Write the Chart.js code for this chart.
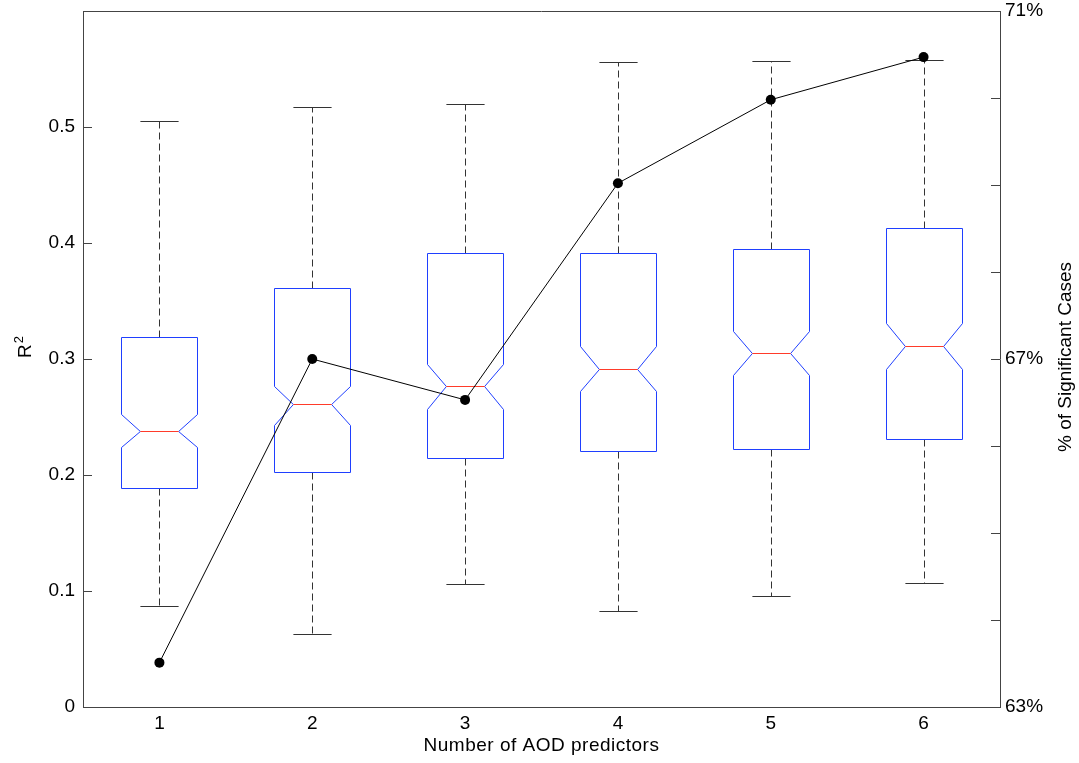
<!DOCTYPE html>
<html>
<head>
<meta charset="utf-8">
<script src="https://cdn.jsdelivr.net/npm/chart.js@4"></script>
<style>
  body { margin: 0; background: #fff; }
  #chart { display: block; }
</style>
</head>
<body>
<canvas id="chart" width="1079" height="763"></canvas>
<script>
// Data
const categories = ['1', '2', '3', '4', '5', '6'];
const whiskerHigh = [0.505, 0.517, 0.520, 0.556, 0.557, 0.558];
const q3 = [0.319, 0.361, 0.391, 0.391, 0.395, 0.413];
const notchHigh = [0.253, 0.277, 0.296, 0.311, 0.324, 0.331];
const median = [0.238, 0.261, 0.277, 0.291, 0.305, 0.311];
const notchLow = [0.224, 0.243, 0.257, 0.272, 0.286, 0.291];
const q1 = [0.189, 0.203, 0.215, 0.221, 0.222, 0.231];
const whiskerLow = [0.087, 0.063, 0.106, 0.083, 0.096, 0.107];
const significantPct = [63.51, 67.0, 66.53, 69.02, 69.98, 70.47];
const pctLabels = [63, 67, 71];

const FONT = '"Liberation Sans", Arial, Helvetica, sans-serif';
const boxColor = '#1f3fff';
const medianColor = '#ff3b2a';
const axisColor = '#444';

function line(ctx, x1, y1, x2, y2) {
    ctx.beginPath();
    ctx.moveTo(x1, y1);
    ctx.lineTo(x2, y2);
    ctx.stroke();
}

// no extra room for edge labels, the plot area is fixed by layout padding
function noPad(s) {
    s.paddingTop = 0;
    s.paddingBottom = 0;
    s.paddingLeft = 0;
    s.paddingRight = 0;
}

// notched boxes, drawn under the line dataset
const boxPlugin = {
    id: 'notchedBoxes',
    beforeDatasetsDraw(chart) {
        const { ctx, scales: { x, y } } = chart;
        const step = x.getPixelForValue(1) - x.getPixelForValue(0);
        const hw = step * 0.25;   // half box width
        const nw = step * 0.125;  // half notch waist
        const cw = step * 0.125;  // half cap width
        const py = v => Math.round(y.getPixelForValue(v)) + 0.5;

        ctx.save();
        ctx.lineWidth = 1;
        categories.forEach((c, i) => {
            const cx = Math.round(x.getPixelForValue(i)) + 0.5;

            // whiskers
            ctx.strokeStyle = '#333';
            ctx.setLineDash([7, 4]);
            line(ctx, cx, py(q3[i]), cx, py(whiskerHigh[i]));
            line(ctx, cx, py(q1[i]), cx, py(whiskerLow[i]));
            ctx.setLineDash([]);
            line(ctx, cx - cw, py(whiskerHigh[i]), cx + cw, py(whiskerHigh[i]));
            line(ctx, cx - cw, py(whiskerLow[i]), cx + cw, py(whiskerLow[i]));

            // box outline with notch
            const l = Math.round(cx - hw) + 0.5, r = Math.round(cx + hw) - 0.5;
            ctx.strokeStyle = boxColor;
            ctx.beginPath();
            ctx.moveTo(l, py(q1[i]));
            ctx.lineTo(l, py(notchLow[i]));
            ctx.lineTo(cx - nw, py(median[i]));
            ctx.lineTo(l, py(notchHigh[i]));
            ctx.lineTo(l, py(q3[i]));
            ctx.lineTo(r, py(q3[i]));
            ctx.lineTo(r, py(notchHigh[i]));
            ctx.lineTo(cx + nw, py(median[i]));
            ctx.lineTo(r, py(notchLow[i]));
            ctx.lineTo(r, py(q1[i]));
            ctx.closePath();
            ctx.stroke();

            // median
            ctx.strokeStyle = medianColor;
            line(ctx, cx - nw, py(median[i]), cx + nw, py(median[i]));
        });
        ctx.restore();
    }
};

// top frame line, inward tick marks and axis titles
const framePlugin = {
    id: 'frame',
    afterDraw(chart) {
        const { ctx, chartArea: a, scales: { y, y2 } } = chart;
        ctx.save();
        ctx.strokeStyle = axisColor;
        ctx.lineWidth = 1;
        line(ctx, a.left, Math.round(a.top) + 0.5, a.right, Math.round(a.top) + 0.5);

        y.ticks.forEach(t => {
            if (t.value > 0.55) return;
            const p = Math.round(y.getPixelForValue(t.value)) + 0.5;
            line(ctx, a.left, p, a.left + 9, p);
        });
        y2.ticks.forEach(t => {
            const p = Math.round(y2.getPixelForValue(t.value)) + 0.5;
            line(ctx, a.right - 9, p, a.right, p);
        });

        ctx.fillStyle = '#000';
        ctx.font = '19px ' + FONT;
        ctx.textBaseline = 'middle';

        // x title
        ctx.textAlign = 'center';
        ctx.letterSpacing = '0.5px';
        ctx.fillText('Number of AOD predictors', (a.left + a.right) / 2, 746);
        ctx.letterSpacing = '0px';

        // right title, reading bottom to top
        ctx.save();
        ctx.translate(1066, 357);
        ctx.rotate(-Math.PI / 2);
        ctx.fillText('% of Significant Cases', 0, 0);
        ctx.restore();

        // left title R^2
        ctx.save();
        ctx.translate(31, 358);
        ctx.rotate(-Math.PI / 2);
        ctx.textAlign = 'left';
        ctx.textBaseline = 'alphabetic';
        const rw = ctx.measureText('R').width;
        ctx.fillText('R', 0, 0);
        ctx.font = '13px ' + FONT;
        ctx.fillText('2', rw + 1, -8);
        ctx.restore();

        ctx.restore();
    }
};

new Chart(document.getElementById('chart'), {
    type: 'line',
    data: {
        labels: categories,
        datasets: [{
            label: '% of Significant Cases',
            data: significantPct,
            yAxisID: 'y2',
            borderColor: '#000',
            borderWidth: 1,
            backgroundColor: '#000',
            pointRadius: 5,
            pointBackgroundColor: '#000',
            pointBorderWidth: 0,
            tension: 0
        }]
    },
    options: {
        responsive: false,
        animation: false,
        layout: { padding: { top: 11, left: 0, right: 0, bottom: 0 } },
        plugins: { legend: { display: false }, tooltip: { enabled: false } },
        scales: {
            x: {
                type: 'category',
                offset: true,
                grid: { display: true, drawOnChartArea: false, drawTicks: false },
                border: { color: axisColor },
                ticks: { color: '#000', font: { size: 19, family: FONT }, padding: 5 },
                afterFit: s => { s.height = 56; noPad(s); }
            },
            y: {
                position: 'left',
                min: 0,
                max: 0.6,
                grid: { display: true, drawOnChartArea: false, drawTicks: false },
                border: { color: axisColor },
                ticks: {
                    stepSize: 0.1,
                    color: '#000',
                    font: { size: 19, family: FONT },
                    padding: 8,
                    callback: v => (v > 0.55 ? '' : (v === 0 ? '0' : v.toFixed(1)))
                },
                afterFit: s => { s.width = 83; noPad(s); }
            },
            y2: {
                position: 'right',
                min: 63,
                max: 71,
                grid: { display: true, drawOnChartArea: false, drawTicks: false },
                border: { color: axisColor },
                ticks: {
                    stepSize: 1,
                    color: '#000',
                    font: { size: 19, family: FONT },
                    padding: 5,
                    callback: v => (pctLabels.includes(v) ? v + '%' : '')
                },
                afterFit: s => { s.width = 79; noPad(s); }
            }
        }
    },
    plugins: [boxPlugin, framePlugin]
});
</script>
</body>
</html>
